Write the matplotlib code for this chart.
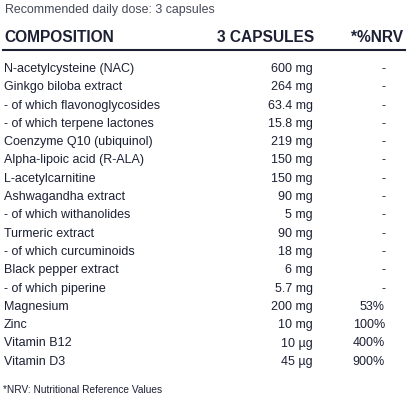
import matplotlib.pyplot as plt

names = ["N-acetylcysteine (NAC)", "Ginkgo biloba extract", "- of which flavonoglycosides",
         "- of which terpene lactones", "Coenzyme Q10 (ubiquinol)", "Alpha-lipoic acid (R-ALA)",
         "L-acetylcarnitine", "Ashwagandha extract", "- of which withanolides", "Turmeric extract",
         "- of which curcuminoids", "Black pepper extract", "- of which piperine", "Magnesium",
         "Zinc", "Vitamin B12", "Vitamin D3"]
amounts = ["600 mg", "264 mg", "63.4 mg", "15.8 mg", "219 mg", "150 mg", "150 mg", "90 mg",
           "5 mg", "90 mg", "18 mg", "6 mg", "5.7 mg", "200 mg", "10 mg", "10 µg", "45 µg"]
nrv = ["-"] * 13 + ["53%", "100%", "400%", "900%"]

plt.rcParams['font.family'] = ['Liberation Sans', 'DejaVu Sans']
col = '#1c2033'

fig = plt.figure(figsize=(4.16, 4.16), dpi=100)
ax = fig.add_axes([0, 0, 1, 1])
ax.set_xlim(0, 416)
ax.set_ylim(416, 0)
ax.axis('off')

ax.text(5, 10, "Recommended daily dose: 3 capsules", fontsize=8.9, color='#444857', va='center')
ax.text(4, 38, "COMPOSITION", fontsize=11.2, fontweight='bold', color=col, va='center')
ax.text(314, 38, "3 CAPSULES", fontsize=11.2, fontweight='bold', color=col, va='center', ha='right')
ax.text(403, 38, "*%NRV", fontsize=11.2, fontweight='bold', color=col, va='center', ha='right')
ax.plot([3, 405], [50, 50], color=col, lw=1.5)

for i, (n, a, v) in enumerate(zip(names, amounts, nrv)):
    y = 69 + i * 18.3
    ax.text(4, y, n, fontsize=9, color=col, va='center')
    ax.text(313, y, a, fontsize=9, color=col, va='center', ha='right')
    if v == "-":
        ax.text(383, y, v, fontsize=9, color=col, va='center', ha='center')
    else:
        ax.text(385, y, v, fontsize=9, color=col, va='center', ha='right')

ax.text(3, 390, "*NRV: Nutritional Reference Values", fontsize=7.3, color=col, va='center')

fig.savefig('out.png', dpi=100)
